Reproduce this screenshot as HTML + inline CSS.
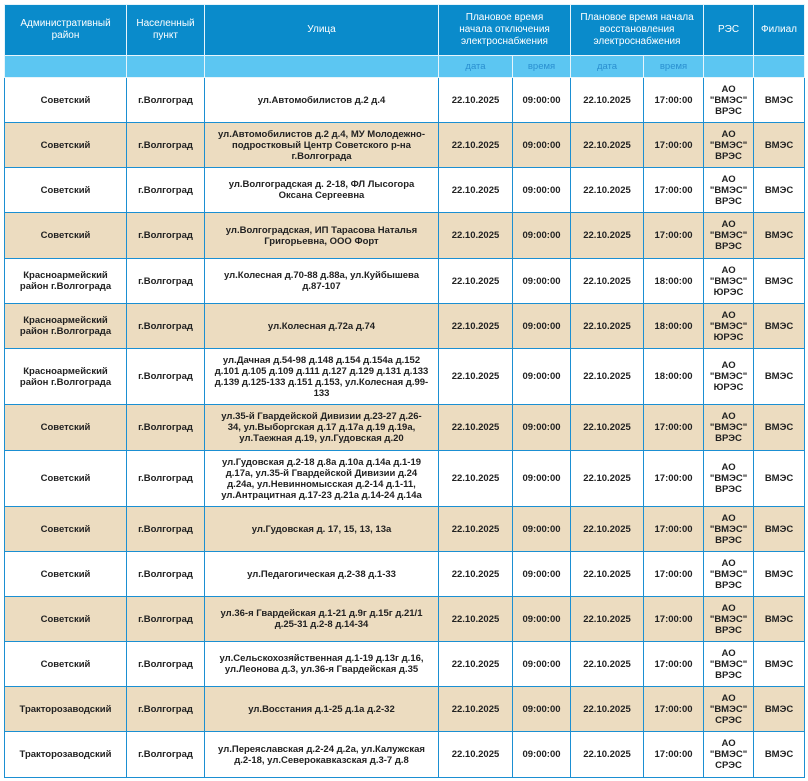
<!DOCTYPE html>
<html><head><meta charset="utf-8"><style>
body{margin:0;background:#fff;}
table{position:absolute;left:4px;top:4px;border-collapse:collapse;table-layout:fixed;width:800px;font-family:"Liberation Sans","DejaVu Sans",sans-serif;font-size:9.5px;font-weight:bold;color:#222;}
td,th{border:1px solid #1b8fd2;text-align:center;vertical-align:middle;padding:0 3px;line-height:11px;overflow:hidden;}
td.s{white-space:nowrap;padding:0 1px;}
th{background:#0a8bcb;color:#fff;font-weight:normal;font-size:10px;border-color:#e6f4fb;line-height:12px;}
tr.sub th{background:#5cc6f2;color:#2a8fd0;font-size:9.5px;}
tr.b td{background:#ecdcc0;}
</style></head><body>
<table>
<colgroup><col style="width:122px"><col style="width:78px"><col style="width:234px"><col style="width:74px"><col style="width:58px"><col style="width:73px"><col style="width:60px"><col style="width:50px"><col style="width:51px"></colgroup>
<tr style="height:51px"><th>Административный район</th><th>Населенный пункт</th><th>Улица</th><th colspan="2">Плановое время<br>начала отключения<br>электроснабжения</th><th colspan="2">Плановое время начала<br>восстановления<br>электроснабжения</th><th>РЭС</th><th>Филиал</th></tr>
<tr class="sub" style="height:22px"><th></th><th></th><th></th><th>дата</th><th>время</th><th>дата</th><th>время</th><th></th><th></th></tr>
<tr style="height:45px"><td>Советский</td><td>г.Волгоград</td><td class="s">ул.Автомобилистов д.2 д.4</td><td>22.10.2025</td><td>09:00:00</td><td>22.10.2025</td><td>17:00:00</td><td>АО "ВМЭС" ВРЭС</td><td>ВМЭС</td></tr>
<tr class="b" style="height:45px"><td>Советский</td><td>г.Волгоград</td><td class="s">ул.Автомобилистов д.2 д.4, МУ Молодежно-<br>подростковый Центр Советского р-на<br>г.Волгограда</td><td>22.10.2025</td><td>09:00:00</td><td>22.10.2025</td><td>17:00:00</td><td>АО "ВМЭС" ВРЭС</td><td>ВМЭС</td></tr>
<tr style="height:45px"><td>Советский</td><td>г.Волгоград</td><td class="s">ул.Волгоградская д. 2-18, ФЛ Лысогора<br>Оксана Сергеевна</td><td>22.10.2025</td><td>09:00:00</td><td>22.10.2025</td><td>17:00:00</td><td>АО "ВМЭС" ВРЭС</td><td>ВМЭС</td></tr>
<tr class="b" style="height:46px"><td>Советский</td><td>г.Волгоград</td><td class="s">ул.Волгоградская, ИП Тарасова Наталья<br>Григорьевна, ООО Форт</td><td>22.10.2025</td><td>09:00:00</td><td>22.10.2025</td><td>17:00:00</td><td>АО "ВМЭС" ВРЭС</td><td>ВМЭС</td></tr>
<tr style="height:45px"><td>Красноармейский район г.Волгограда</td><td>г.Волгоград</td><td class="s">ул.Колесная д.70-88 д.88а, ул.Куйбышева<br>д.87-107</td><td>22.10.2025</td><td>09:00:00</td><td>22.10.2025</td><td>18:00:00</td><td>АО "ВМЭС" ЮРЭС</td><td>ВМЭС</td></tr>
<tr class="b" style="height:45px"><td>Красноармейский район г.Волгограда</td><td>г.Волгоград</td><td class="s">ул.Колесная д.72а д.74</td><td>22.10.2025</td><td>09:00:00</td><td>22.10.2025</td><td>18:00:00</td><td>АО "ВМЭС" ЮРЭС</td><td>ВМЭС</td></tr>
<tr style="height:56px"><td>Красноармейский район г.Волгограда</td><td>г.Волгоград</td><td class="s">ул.Дачная д.54-98 д.148 д.154 д.154а д.152<br>д.101 д.105 д.109 д.111 д.127 д.129 д.131 д.133<br>д.139 д.125-133 д.151 д.153, ул.Колесная д.99-<br>133</td><td>22.10.2025</td><td>09:00:00</td><td>22.10.2025</td><td>18:00:00</td><td>АО "ВМЭС" ЮРЭС</td><td>ВМЭС</td></tr>
<tr class="b" style="height:46px"><td>Советский</td><td>г.Волгоград</td><td class="s">ул.35-й Гвардейской Дивизии д.23-27 д.26-<br>34, ул.Выборгская д.17 д.17а д.19 д.19а,<br>ул.Таежная д.19, ул.Гудовская д.20</td><td>22.10.2025</td><td>09:00:00</td><td>22.10.2025</td><td>17:00:00</td><td>АО "ВМЭС" ВРЭС</td><td>ВМЭС</td></tr>
<tr style="height:56px"><td>Советский</td><td>г.Волгоград</td><td class="s">ул.Гудовская д.2-18 д.8а д.10а д.14а д.1-19<br>д.17а, ул.35-й Гвардейской Дивизии д.24<br>д.24а, ул.Невинномысская д.2-14 д.1-11,<br>ул.Антрацитная д.17-23 д.21а д.14-24 д.14а</td><td>22.10.2025</td><td>09:00:00</td><td>22.10.2025</td><td>17:00:00</td><td>АО "ВМЭС" ВРЭС</td><td>ВМЭС</td></tr>
<tr class="b" style="height:45px"><td>Советский</td><td>г.Волгоград</td><td class="s">ул.Гудовская д. 17, 15, 13, 13а</td><td>22.10.2025</td><td>09:00:00</td><td>22.10.2025</td><td>17:00:00</td><td>АО "ВМЭС" ВРЭС</td><td>ВМЭС</td></tr>
<tr style="height:45px"><td>Советский</td><td>г.Волгоград</td><td class="s">ул.Педагогическая д.2-38 д.1-33</td><td>22.10.2025</td><td>09:00:00</td><td>22.10.2025</td><td>17:00:00</td><td>АО "ВМЭС" ВРЭС</td><td>ВМЭС</td></tr>
<tr class="b" style="height:45px"><td>Советский</td><td>г.Волгоград</td><td class="s">ул.36-я Гвардейская д.1-21 д.9г д.15г д.21/1<br>д.25-31 д.2-8 д.14-34</td><td>22.10.2025</td><td>09:00:00</td><td>22.10.2025</td><td>17:00:00</td><td>АО "ВМЭС" ВРЭС</td><td>ВМЭС</td></tr>
<tr style="height:45px"><td>Советский</td><td>г.Волгоград</td><td class="s">ул.Сельскохозяйственная д.1-19 д.13г д.16,<br>ул.Леонова д.3, ул.36-я Гвардейская д.35</td><td>22.10.2025</td><td>09:00:00</td><td>22.10.2025</td><td>17:00:00</td><td>АО "ВМЭС" ВРЭС</td><td>ВМЭС</td></tr>
<tr class="b" style="height:45px"><td>Тракторозаводский</td><td>г.Волгоград</td><td class="s">ул.Восстания д.1-25 д.1а д.2-32</td><td>22.10.2025</td><td>09:00:00</td><td>22.10.2025</td><td>17:00:00</td><td>АО "ВМЭС" СРЭС</td><td>ВМЭС</td></tr>
<tr style="height:46px"><td>Тракторозаводский</td><td>г.Волгоград</td><td class="s">ул.Переяславская д.2-24 д.2а, ул.Калужская<br>д.2-18, ул.Северокавказская д.3-7 д.8</td><td>22.10.2025</td><td>09:00:00</td><td>22.10.2025</td><td>17:00:00</td><td>АО "ВМЭС" СРЭС</td><td>ВМЭС</td></tr>
</table>
</body></html>
